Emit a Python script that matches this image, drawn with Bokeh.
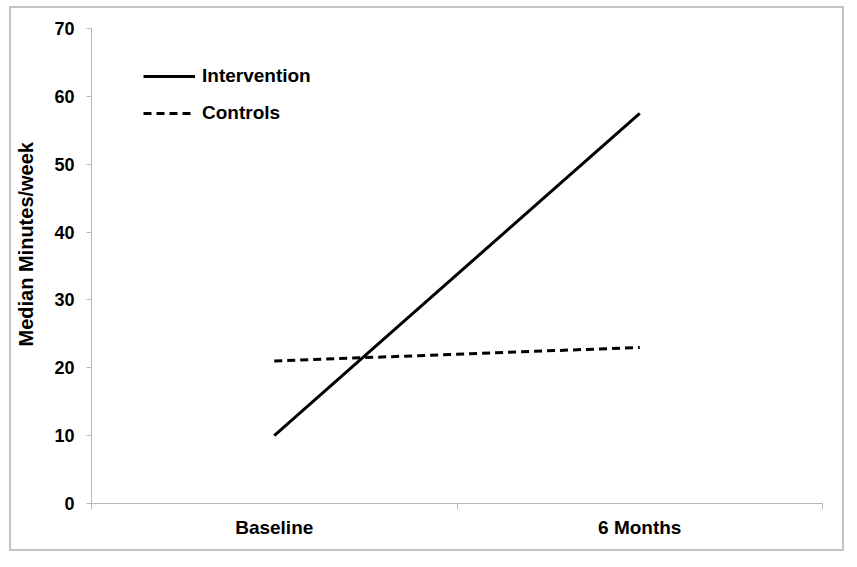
from bokeh.plotting import figure
from bokeh.models import (Range1d, FixedTicker, Legend, LegendItem, Title,
                          LinearAxis, ColumnDataSource)
from bokeh.embed import file_html
from bokeh.resources import INLINE

# ---- data ----
categories = ["Baseline", "6 Months"]
intervention = [10.0, 57.5]
controls = [21.0, 23.0]
y_ticks = [0, 10, 20, 30, 40, 50, 60, 70]
y_title = "Median Minutes/week"

xpos = [i + 0.5 for i in range(len(categories))]
FONT = "Liberation Sans"

p = figure(width=835, height=545, output_backend="svg", toolbar_location=None,
           x_range=Range1d(0, len(categories)), y_range=Range1d(0, 70),
           min_border_left=80, min_border_top=20, min_border_right=24,
           min_border_bottom=50)
p.styles = {"border": "2px solid #c4c4c4", "margin-left": "9px",
            "margin-top": "6px"}
p.outline_line_color = None
p.xgrid.visible = False
p.ygrid.visible = False

src = ColumnDataSource(dict(x=xpos, inter=intervention, ctrl=controls))
r1 = p.line("x", "inter", source=src, line_color="black", line_width=3)
r2 = p.line("x", "ctrl", source=src, line_color="black", line_width=3,
            line_dash="8 5")

# y axis
ya = p.yaxis[0]
ya.ticker = FixedTicker(ticks=y_ticks, minor_ticks=[])
ya.axis_line_color = "#b8b8b8"
ya.major_tick_line_color = "#b8b8b8"
ya.major_tick_out = 5
ya.major_tick_in = 0
ya.minor_tick_line_color = None
ya.major_label_text_font = FONT
ya.major_label_text_font_style = "bold"
ya.major_label_text_font_size = "18px"
ya.major_label_text_color = "black"
ya.major_label_standoff = 12

# invisible spacer between tick labels and the y title
spacer = LinearAxis(ticker=FixedTicker(ticks=[35], minor_ticks=[]),
                    major_label_overrides={35: ""}, major_label_standoff=0,
                    axis_line_color=None, major_tick_line_color=None,
                    minor_tick_line_color=None, major_tick_out=15,
                    major_tick_in=0, minor_tick_out=0, minor_tick_in=0)
p.add_layout(spacer, "left")

# y axis title
t = Title(text=y_title, align="left", offset=157, standoff=0,
          text_font=FONT, text_font_style="bold", text_font_size="20px",
          text_color="black")
p.add_layout(t, "left")

# x axis
xa = p.xaxis[0]
xa.ticker = FixedTicker(ticks=xpos, minor_ticks=list(range(len(categories) + 1)))
xa.major_label_overrides = {x: c for x, c in zip(xpos, categories)}
xa.axis_line_color = "#b8b8b8"
xa.major_tick_line_color = None
xa.major_tick_out = 0
xa.major_tick_in = 0
xa.minor_tick_line_color = "#b8b8b8"
xa.minor_tick_out = 6
xa.minor_tick_in = 0
xa.major_label_text_font = FONT
xa.major_label_text_font_style = "bold"
xa.major_label_text_font_size = "19px"
xa.major_label_text_color = "black"
xa.major_label_standoff = 7

legend = Legend(items=[LegendItem(label="Intervention", renderers=[r1]),
                       LegendItem(label="Controls", renderers=[r2])],
                location=(52, 379), orientation="vertical",
                border_line_color=None, background_fill_alpha=0,
                padding=0, margin=0, spacing=15,
                glyph_width=52, glyph_height=20, label_height=20,
                label_standoff=7,
                label_text_font=FONT, label_text_font_style="bold",
                label_text_font_size="19px", label_text_color="black")
p.add_layout(legend, "center")

open("out.html", "w").write(file_html(p, INLINE))
